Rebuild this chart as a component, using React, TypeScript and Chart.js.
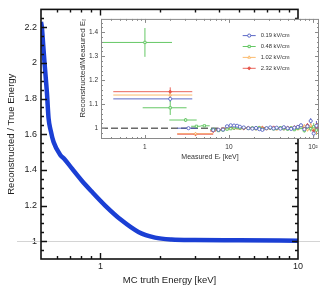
import React, { useEffect, useRef } from 'react';
import { Chart, registerables } from 'chart.js';
import { drawPoint } from 'chart.js/helpers';

Chart.register(...registerables);

const FONT = '"Liberation Sans", Arial, Helvetica, sans-serif';

// ---------- main chart data ----------
const trueEnergy = [0.5, 0.505, 0.513, 0.521, 0.536, 0.546, 0.56, 0.579, 0.626, 0.658, 0.72, 0.805, 0.9, 1.056, 1.28, 1.556, 1.89, 2.29, 3.0, 5, 10];
const recoRatio = [2.23, 2.2, 2.1, 2.0, 1.83, 1.69, 1.62, 1.556, 1.483, 1.46, 1.405, 1.339, 1.28, 1.2, 1.117, 1.052, 1.02, 1.009, 1.006, 1.005, 1.003];
const mainXLabels = [1, 10];
const mainXMinor = [0.6, 0.7, 0.8, 0.9, 2, 3, 4, 5, 6, 7, 8, 9];
const mainYLabels = [1, 1.2, 1.4, 1.6, 1.8, 2, 2.2];

// ---------- inset data ----------
const fieldNames = ['0.19 kV/cm', '0.48 kV/cm', '1.02 kV/cm', '2.32 kV/cm'];
const fieldColors = ['#4a58c0', '#55c255', '#fbb45f', '#e6544a'];
const fieldMarkers = ['circle', 'rect', 'triangle', 'rectRot'];
const fieldFilled = [false, false, false, true];

// low-energy points per field
const blueE = [2, 3.3];
const blueLo = [0.42, 2.42];
const blueHi = [3.66, 4.2];
const blueVal = [1.122, 1.0];
const blueErr = [0.012, 0.004];

const greenE = [1, 2, 3.05, 4.1, 5.1];
const greenLo = [0.25, 0.94, 1.95, 3.55, 4.6];
const greenHi = [2.1, 3.13, 4.13, 4.6, 5.9];
const greenVal = [1.357, 1.085, 1.034, 1.008, 1.01];
const greenErr = [0.06, 0.03, 0.008, 0.004, 0.004];

const orangeE = [2, 4];
const orangeLo = [0.42, 2.42];
const orangeHi = [3.66, 6.5];
const orangeVal = [1.138, 0.977];
const orangeErr = [0.02, 0.005];

const redE = [2, 4];
const redLo = [0.42, 2.42];
const redHi = [3.66, 6.5];
const redVal = [1.152, 0.975];
const redErr = [0.018, 0.005];

// dense high-energy region (shared bins)
const denseE = [6.5, 7.5, 8.5, 9.5, 10.5, 11.5, 12.5, 13.5, 15, 17, 19, 21, 23, 25, 28, 31, 34, 37, 41, 45, 50, 55, 60, 66, 72, 79, 86, 94, 102, 110];
const denseLo = [6, 7, 8, 9, 10, 11, 12, 13, 14, 16, 18, 20, 22, 24, 26.5, 29.5, 32.5, 35.5, 39, 43, 47.5, 52.5, 57.5, 63, 69, 75.5, 82.5, 90, 98, 106];
const denseHi = [7, 8, 9, 10, 11, 12, 13, 14, 16, 18, 20, 22, 24, 26.5, 29.5, 32.5, 35.5, 39, 43, 47.5, 52.5, 57.5, 63, 69, 75.5, 82.5, 90, 98, 106, 114];
const denseErr = [0.003, 0.003, 0.003, 0.003, 0.003, 0.003, 0.003, 0.003, 0.003, 0.003, 0.003, 0.003, 0.003, 0.003, 0.003, 0.004, 0.004, 0.004, 0.004, 0.005, 0.005, 0.005, 0.006, 0.006, 0.007, 0.008, 0.009, 0.012, 0.015, 0.02];
const blueDense = [0.992, 0.993, 0.994, 1.008, 1.012, 1.011, 1.01, 1.006, 1.003, 1.0, 0.998, 1.001, 0.996, 0.993, 1.0, 1.003, 0.999, 1.002, 0.998, 1.004, 1.0, 0.997, 1.002, 1.005, 1.012, 0.996, 1.008, 1.03, 0.978, 1.01];
const greenDense = [0.995, 0.99, 0.992, 0.996, 0.998, 1.001, 1.003, 1.0, 1.002, 0.999, 1.001, 0.998, 1.002, 0.996, 1.0, 1.001, 0.997, 0.999, 1.002, 0.998, 0.996, 1.001, 0.994, 0.999, 1.003, 0.99, 1.005, 0.998, 1.006, 0.992];
const orangeDense = [0.99, 0.993, 0.996, 0.998, 1.0, 1.002, 1.001, 0.999, 1.002, 1.0, 0.998, 1.001, 1.003, 0.999, 0.997, 1.002, 1.0, 0.996, 1.001, 1.003, 0.998, 1.002, 1.0, 0.997, 1.004, 1.008, 0.995, 1.01, 1.0, 0.994];
const redDense = [0.988, 0.994, 0.997, 0.999, 1.001, 1.0, 1.002, 1.001, 0.999, 1.002, 1.0, 0.998, 1.001, 1.002, 0.999, 1.0, 1.003, 0.999, 1.001, 0.998, 1.002, 1.0, 1.004, 1.006, 1.008, 1.002, 1.012, 1.004, 0.99, 1.002];

const insetXLabels = [1, 10, 100];
const insetXMinor = [0.3, 0.4, 0.5, 0.6, 0.7, 0.8, 0.9, 2, 3, 4, 5, 6, 7, 8, 9, 20, 30, 40, 50, 60, 70, 80, 90];
const insetYLabels = [1, 1.1, 1.2, 1.3, 1.4];

function buildSeries(E: number[], lo: number[], hi: number[], val: number[], err: number[], dVal: number[]) {
  const pts: any[] = [];
  E.forEach((e, i) => pts.push({ x: e, y: val[i], lo: lo[i], hi: hi[i], err: err[i] }));
  denseE.forEach((e, i) => pts.push({ x: e, y: dVal[i], lo: denseLo[i], hi: denseHi[i], err: denseErr[i] }));
  return pts;
}

const seriesData = [
  buildSeries(blueE, blueLo, blueHi, blueVal, blueErr, blueDense),
  buildSeries(greenE, greenLo, greenHi, greenVal, greenErr, greenDense),
  buildSeries(orangeE, orangeLo, orangeHi, orangeVal, orangeErr, orangeDense),
  buildSeries(redE, redLo, redHi, redVal, redErr, redDense),
];

function drawTicks(ctx: CanvasRenderingContext2D, chart: any, xMajor: number[], xMinor: number[], yMajor: number[], yMinor: number[], majLen: number, minLen: number) {
  const a = chart.chartArea;
  const { x, y } = chart.scales;
  ctx.beginPath();
  const xt = (vals: number[], len: number) => vals.forEach((v) => {
    const p = Math.round(x.getPixelForValue(v)) + 0.5;
    if (p < a.left || p > a.right) return;
    ctx.moveTo(p, a.bottom); ctx.lineTo(p, a.bottom - len);
    ctx.moveTo(p, a.top); ctx.lineTo(p, a.top + len);
  });
  const yt = (vals: number[], len: number) => vals.forEach((v) => {
    const p = Math.round(y.getPixelForValue(v)) + 0.5;
    if (p < a.top || p > a.bottom) return;
    ctx.moveTo(a.left, p); ctx.lineTo(a.left + len, p);
    ctx.moveTo(a.right, p); ctx.lineTo(a.right - len, p);
  });
  xt(xMajor, majLen); xt(xMinor, minLen);
  yt(yMajor, majLen); yt(yMinor, minLen);
  ctx.stroke();
}

const mainPlugin = {
  id: 'mainDecor',
  beforeDatasetsDraw(chart: any) {
    const { ctx, chartArea: a, scales: { y } } = chart;
    const py = Math.round(y.getPixelForValue(1)) + 0.5;
    ctx.save();
    ctx.strokeStyle = '#d4d4d4';
    ctx.lineWidth = 1;
    ctx.beginPath();
    ctx.moveTo(a.left - 24, py);
    ctx.lineTo(a.right + 22, py);
    ctx.stroke();
    ctx.restore();
  },
  afterDraw(chart: any) {
    const { ctx, chartArea: a } = chart;
    ctx.save();
    ctx.strokeStyle = '#111';
    ctx.lineWidth = 1.6;
    ctx.strokeRect(a.left, a.top, a.right - a.left, a.bottom - a.top);
    ctx.lineWidth = 1.4;
    const yMinor: number[] = [];
    for (let v = 0.95; v < 2.3; v += 0.05) {
      const r = Math.round(v * 100) / 100;
      if (Math.abs(r * 5 - Math.round(r * 5)) > 1e-6) yMinor.push(r);
    }
    drawTicks(ctx, chart, mainXLabels, mainXMinor, mainYLabels, yMinor, 6, 3);
    ctx.restore();
  },
};

const insetPlugin = {
  id: 'insetDecor',
  beforeDraw(chart: any) {
    const { ctx, chartArea: a } = chart;
    ctx.save();
    ctx.fillStyle = '#fff';
    ctx.fillRect(a.left, a.top, a.right - a.left, a.bottom - a.top);
    ctx.restore();
  },
  beforeDatasetsDraw(chart: any) {
    const { ctx, chartArea: a, scales: { x, y } } = chart;
    ctx.save();
    ctx.beginPath();
    ctx.rect(a.left, a.top, a.right - a.left, a.bottom - a.top);
    ctx.clip();
    const py = y.getPixelForValue(1);
    ctx.strokeStyle = '#6a6a6a';
    ctx.lineWidth = 1.6;
    ctx.setLineDash([7, 3]);
    ctx.beginPath();
    ctx.moveTo(a.left, py);
    ctx.lineTo(a.right, py);
    ctx.stroke();
    ctx.setLineDash([]);
    chart.data.datasets.forEach((ds: any) => {
      ctx.strokeStyle = ds.borderColor;
      ctx.lineWidth = 0.9;
      ctx.beginPath();
      ds.data.forEach((p: any) => {
        const px = x.getPixelForValue(p.x);
        const pyy = y.getPixelForValue(p.y);
        ctx.moveTo(x.getPixelForValue(p.lo), pyy);
        ctx.lineTo(x.getPixelForValue(p.hi), pyy);
        ctx.moveTo(px, y.getPixelForValue(p.y - p.err));
        ctx.lineTo(px, y.getPixelForValue(p.y + p.err));
      });
      ctx.stroke();
    });
    ctx.restore();
  },
  afterDraw(chart: any) {
    const { ctx, chartArea: a } = chart;
    ctx.save();
    ctx.strokeStyle = '#8a8a8a';
    ctx.lineWidth = 1;
    ctx.strokeRect(a.left + 0.5, a.top + 0.5, a.right - a.left - 1, a.bottom - a.top - 1);
    const yMinor: number[] = [];
    for (let v = 0.96; v < 1.455; v += 0.02) {
      const r = Math.round(v * 100) / 100;
      if (Math.abs(r * 10 - Math.round(r * 10)) > 1e-6) yMinor.push(r);
    }
    drawTicks(ctx, chart, insetXLabels, insetXMinor, insetYLabels, yMinor, 4, 2);
    // legend
    ctx.font = `5.8px ${FONT}`;
    ctx.textBaseline = 'middle';
    ctx.textAlign = 'left';
    fieldNames.forEach((name, i) => {
      const ly = a.top + 16.7 + i * 10.9;
      const lx = a.left + 141.7;
      ctx.strokeStyle = fieldColors[i];
      ctx.lineWidth = 0.9;
      ctx.beginPath();
      ctx.moveTo(lx, ly);
      ctx.lineTo(lx + 13, ly);
      ctx.stroke();
      ctx.fillStyle = fieldFilled[i] ? fieldColors[i] : '#fff';
      drawPoint(ctx, { pointStyle: fieldMarkers[i] as any, radius: 1.6, rotation: 0, borderWidth: 0.8 } as any, lx + 6.5, ly);
      ctx.fillStyle = '#333';
      ctx.fillText(name, lx + 18, ly);
    });
    ctx.restore();
  },
};

export default function App() {
  const mainRef = useRef<HTMLCanvasElement>(null);
  const insetRef = useRef<HTMLCanvasElement>(null);

  useEffect(() => {
    const main = new Chart(mainRef.current as HTMLCanvasElement, {
      type: 'scatter',
      data: {
        datasets: [
          {
            label: 'Reconstructed / True Energy',
            data: trueEnergy.map((e, i) => ({ x: e, y: recoRatio[i] })),
            showLine: true,
            borderColor: '#1b3fd4',
            backgroundColor: '#1b3fd4',
            borderWidth: 4.5,
            pointRadius: 0,
            cubicInterpolationMode: 'monotone',
          } as any,
        ],
      },
      options: {
        animation: false,
        responsive: false,
        maintainAspectRatio: false,
        layout: { padding: { left: 0, right: 34, top: 5, bottom: 0 } },
        plugins: { legend: { display: false }, tooltip: { enabled: false } },
        scales: {
          x: {
            type: 'logarithmic',
            min: 0.5,
            max: 10,
            bounds: 'data',
            grid: { display: false, drawTicks: false },
            border: { display: false },
            afterBuildTicks: (s: any) => { s.ticks = mainXLabels.map((v) => ({ value: v })); },
            afterFit: (s: any) => { s.height = 28; },
            ticks: {
              autoSkip: false,
              maxRotation: 0,
              padding: 2,
              color: '#222',
              font: { family: FONT, size: 9 },
              callback: (v: any) => String(v),
            },
            title: {
              display: true,
              text: 'MC truth Energy [keV]',
              color: '#222',
              font: { family: FONT, size: 9.5 },
              padding: { top: 0, bottom: 1 },
            },
          } as any,
          y: {
            type: 'linear',
            min: 0.9,
            max: 2.3,
            bounds: 'data',
            grid: { display: false, drawTicks: false },
            border: { display: false },
            afterBuildTicks: (s: any) => { s.ticks = mainYLabels.map((v) => ({ value: v })); },
            afterFit: (s: any) => { s.width = 41; },
            ticks: {
              autoSkip: false,
              padding: 4,
              color: '#222',
              font: { family: FONT, size: 9 },
              callback: (v: any) => String(Number(Number(v).toFixed(1))),
            },
            title: {
              display: true,
              text: 'Reconstructed / True Energy',
              color: '#222',
              font: { family: FONT, size: 9.5 },
              padding: { top: 6, bottom: 0 },
            },
          } as any,
        },
      },
      plugins: [mainPlugin],
    } as any);

    const inset = new Chart(insetRef.current as HTMLCanvasElement, {
      type: 'scatter',
      data: {
        datasets: seriesData.map((pts, i) => ({
          label: fieldNames[i],
          data: pts,
          borderColor: fieldColors[i],
          backgroundColor: fieldFilled[i] ? fieldColors[i] : '#fff',
          pointStyle: fieldMarkers[i],
          pointRadius: 1.6,
          borderWidth: 0.8,
          showLine: false,
        })) as any,
      },
      options: {
        animation: false,
        responsive: false,
        maintainAspectRatio: false,
        layout: { padding: { left: 0, right: 5, top: 3, bottom: 0 } },
        plugins: { legend: { display: false }, tooltip: { enabled: false } },
        scales: {
          x: {
            type: 'logarithmic',
            min: 0.3,
            max: 118,
            bounds: 'data',
            grid: { display: false, drawTicks: false },
            border: { display: false },
            afterBuildTicks: (s: any) => { s.ticks = insetXLabels.map((v) => ({ value: v })); },
            afterFit: (s: any) => { s.height = 25; },
            ticks: {
              autoSkip: false,
              maxRotation: 0,
              padding: 4.5,
              color: '#333',
              font: { family: FONT, size: 6.5 },
              callback: (v: any) => (Number(v) === 100 ? '10²' : String(v)),
            },
            title: {
              display: true,
              text: 'Measured Eᵣ [keV]',
              color: '#333',
              font: { family: FONT, size: 7 },
              padding: { top: 0, bottom: 3 },
            },
          } as any,
          y: {
            type: 'linear',
            min: 0.955,
            max: 1.455,
            bounds: 'data',
            grid: { display: false, drawTicks: false },
            border: { display: false },
            afterBuildTicks: (s: any) => { s.ticks = insetYLabels.map((v) => ({ value: v })); },
            afterFit: (s: any) => { s.width = 31; },
            ticks: {
              autoSkip: false,
              padding: 3,
              color: '#333',
              font: { family: FONT, size: 6.5 },
              callback: (v: any) => String(Number(Number(v).toFixed(1))),
            },
            title: {
              display: true,
              text: 'Reconstructed/Measured Eᵣ',
              align: 'end',
              color: '#333',
              font: { family: FONT, size: 8 },
              padding: { top: 8, bottom: 0 },
            },
          } as any,
        },
      },
      plugins: [insetPlugin],
    } as any);

    return () => {
      main.destroy();
      inset.destroy();
    };
  }, []);

  return (
    <div style={{ position: 'fixed', left: 0, top: 0, width: 332, height: 287, background: '#fff' }}>
      <canvas ref={mainRef} width={332} height={287} style={{ position: 'absolute', left: 0, top: 0, width: 332, height: 287 }} />
      <canvas ref={insetRef} width={254} height={152} style={{ position: 'absolute', left: 70, top: 12, width: 254, height: 152 }} />
    </div>
  );
}
